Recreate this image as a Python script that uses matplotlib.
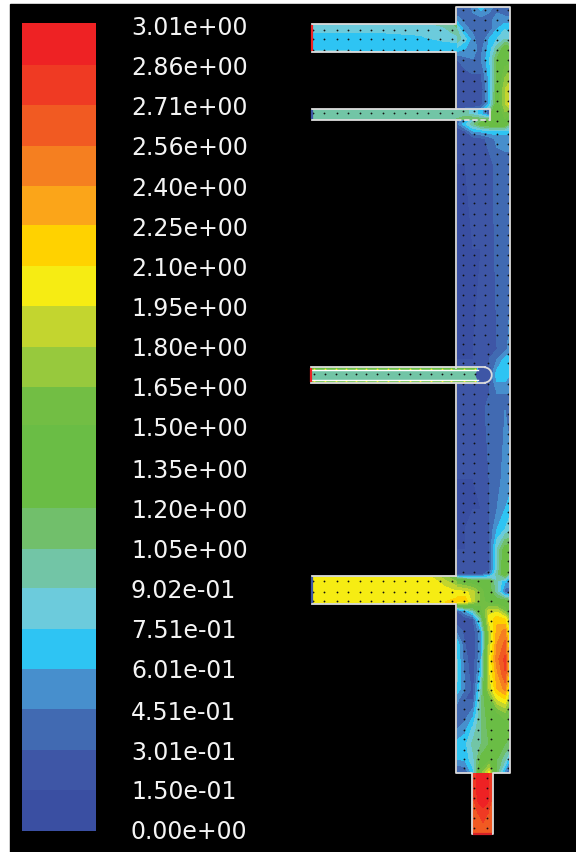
import matplotlib
matplotlib.use('Agg')
import matplotlib.pyplot as plt
from matplotlib.colors import ListedColormap, BoundaryNorm
from matplotlib.patches import Rectangle, Arc, Circle

# Contour levels and legend text, top of legend first
tick_labels = ['3.01e+00', '2.86e+00', '2.71e+00', '2.56e+00', '2.40e+00', '2.25e+00', '2.10e+00',
               '1.95e+00', '1.80e+00', '1.65e+00', '1.50e+00', '1.35e+00', '1.20e+00', '1.05e+00',
               '9.02e-01', '7.51e-01', '6.01e-01', '4.51e-01', '3.01e-01', '1.50e-01', '0.00e+00']
levels = [float(t) for t in tick_labels][::-1]
band_colors = ['#ee2224', '#ef3a23', '#f15a22', '#f57f20', '#fba519', '#ffd200', '#f6ec13',
               '#c3d52f', '#97c93d', '#72be44', '#6abd45', '#6abd45', '#71bf6b', '#72c5a6',
               '#6ccbdc', '#2ec4f3', '#478fcd', '#416ab2', '#3e56a6', '#3a4fa2']

# Main column, velocity
col_x = [457, 465, 473, 481, 489, 497, 505, 510]
col_y = [8, 20, 30, 40, 50, 60, 75, 90, 105, 125, 132, 140, 165, 250, 350, 360, 376, 395, 410, 480,
         510, 530, 550, 570, 575, 582, 593, 602, 612, 620, 632, 645, 660, 675, 690, 700, 715, 730,
         745, 760, 774]
col_v = [
    [.30, .30, .50, .70, .50, .40, .30, .30],
    [.50, .40, .40, .40, .40, .50, .50, .50],
    [.90, .50, .40, .30, .35, .60, .75, .70],
    [1.0, .80, .50, .30, .60, .75, .90, .80],
    [.70, .60, .50, .40, .65, 1.0, 1.35, 1.35],
    [.30, .40, .45, .45, .70, 1.2, 1.4, 1.4],
    [.20, .25, .30, .30, .65, 1.25, 1.6, 1.7],
    [.20, .20, .20, .20, .60, 1.3, 1.8, 1.9],
    [.20, .20, .15, .20, .65, 1.35, 1.8, 2.0],
    [.40, .70, 1.0, 1.3, 1.4, 1.5, 1.4, 1.0],
    [.20, .30, .60, .65, .70, .70, .70, .70],
    [.20, .20, .20, .25, .35, .50, .50, .50],
    [.15, .15, .20, .20, .25, .35, .40, .40],
    [.15, .15, .15, .15, .20, .35, .40, .40],
    [.15, .15, .15, .20, .20, .30, .40, .50],
    [.15, .15, .15, .20, .30, .45, .65, .70],
    [.20, .20, .20, .20, .30, .68, .68, .60],
    [.20, .20, .20, .20, .30, .45, .45, .45],
    [.20, .20, .20, .25, .35, .40, .45, .40],
    [.15, .15, .15, .20, .30, .40, .50, .50],
    [.15, .15, .15, .15, .30, .45, .60, .70],
    [.15, .15, .20, .20, .30, .60, .75, .85],
    [.15, .15, .20, .20, .30, .90, 1.3, 1.3],
    [.20, .20, .20, .20, .25, .85, 1.5, 1.3],
    [.20, .20, .20, .25, .40, 1.0, 1.4, .90],
    [1.5, 1.4, 1.35, 1.3, 1.25, .90, .65, .55],
    [2.0, 2.0, 1.85, 1.6, 1.3, .95, .35, .35],
    [2.2, 2.2, 1.85, 1.6, 1.35, 1.3, 1.3, 1.2],
    [.30, .60, .90, 1.4, 1.9, 1.9, 1.6, 1.4],
    [.20, .20, .30, 1.0, 2.0, 2.2, 2.1, 1.7],
    [.40, .25, .20, .60, 1.8, 2.3, 2.45, 1.8],
    [.70, .30, .20, .55, 1.8, 2.4, 2.6, 2.0],
    [.75, .35, .20, .60, 1.9, 2.5, 2.75, 2.0],
    [.80, .40, .20, .70, 1.9, 2.35, 2.7, 2.0],
    [.70, .45, .25, .90, 1.8, 2.25, 2.45, 1.9],
    [.50, .30, .30, 1.0, 1.5, 1.95, 2.1, 1.7],
    [.35, .35, .55, 1.05, 1.3, 1.45, 1.6, 1.45],
    [.45, .55, .80, 1.05, 1.25, 1.3, 1.35, 1.3],
    [.65, .70, .95, 1.05, 1.2, 1.3, 1.2, 1.1],
    [.60, .65, .85, 1.25, 1.4, 1.2, .95, .60],
    [.25, .30, .70, 1.6, 2.0, 1.1, .50, .20],
]

# Side ducts and inlet
duct1_x = [312, 380, 420, 445, 457]
duct1_y = [25, 32, 39, 46, 53]
duct1_v = [[.80, .80, .85, .95, 1.1],
           [.78, .78, .80, .85, 1.0],
           [.65, .65, .72, .82, .85],
           [.65, .65, .65, .68, .70],
           [.78, .76, .70, .65, .65]]
duct2_x = [312, 450, 465, 480, 490]
duct2_y = [110, 115, 121]
duct2_v = [[.97, .97, .97, .70, .30],
           [.97, .97, .97, .70, .30],
           [1.0, 1.0, 1.2, 1.2, 1.2]]
duct3_x = [311, 476, 478, 491]
duct3_y = [368, 370, 372, 381, 382, 384]
duct3_v = [[1.3, 1.3, .2, .2],
           [1.3, 1.3, .2, .2],
           [.97, .97, .2, .2],
           [.97, .97, .2, .2],
           [1.3, 1.3, .2, .2],
           [1.3, 1.3, .2, .2]]
duct4_x = [312, 430, 445, 457]
duct4_y = [577, 579, 590, 603, 605]
duct4_v = [[1.4, 1.4, 1.4, 1.4],
           [2.0, 2.0, 1.75, 1.5],
           [2.0, 2.0, 2.0, 1.9],
           [2.0, 2.0, 2.1, 2.2],
           [1.4, 1.6, 2.0, 2.2]]
inlet_x = [472, 478, 483, 488, 493]
inlet_y = [774, 800, 815, 835]
inlet_v = [[2.7, 2.9, 2.95, 2.9, 2.7],
           [2.65, 2.9, 2.95, 2.9, 2.65],
           [2.65, 2.7, 2.8, 2.7, 2.65],
           [2.6, 2.6, 2.6, 2.6, 2.6]]

# Velocity vector dots
duct_dot_x = [313, 324, 337, 348, 360, 371, 383, 394, 405, 417, 428, 440, 452]
duct3_dot_x = [314, 325, 336, 346, 356, 366, 377, 388, 399, 410, 420, 431, 442, 451, 464, 475]
top_dot_x = [463, 474, 485, 497, 508]
top_dot_y = [11, 21, 31, 41, 51, 61, 72, 82, 92, 102, 112, 122, 135, 145, 155, 165, 175, 185, 195,
             204, 215, 226, 236, 246, 256, 266, 276, 286, 296, 306, 316, 326, 336]
mid_dot_x = [463, 474, 488, 508]
mid_dot_y = [345, 355, 364, 385, 395, 405, 415, 425, 435, 444, 455, 464, 474, 484, 494, 504, 513,
             524, 533, 543, 553, 562, 573]
low_dot_x = [464, 478, 491, 508]
low_dot_y = [582, 593, 602, 612, 622, 632, 642, 652, 662, 672, 682, 691, 701, 710, 720, 731, 740,
             751, 760, 769]
inlet_dot_x = [474, 487]
inlet_dot_y = [779, 789, 799, 809, 819, 829]

# Legend layout in pixels
band_edges = [832, 791, 751, 710, 670, 630, 589, 550, 509, 469, 426, 388, 348, 307, 267, 226, 187,
              147, 106, 66, 24]
label_y = [27.5, 67.5, 107.5, 147.5, 188.5, 228.5, 268.5, 308.5, 348.5, 389.5, 429.5, 470.5, 510.5,
           551.5, 591.5, 631.5, 671.5, 712.5, 752.5, 792.5, 832.5]

fig = plt.figure(figsize=(5.76, 8.53), dpi=100, facecolor='white')
ax = fig.add_axes([0, 0, 1, 1])
ax.set_xlim(0, 576)
ax.set_ylim(853, 0)
ax.axis('off')
ax.add_patch(Rectangle((10, 5), 566, 848, color='black', zorder=0))

cmap = ListedColormap(band_colors[::-1])
norm = BoundaryNorm(levels, cmap.N)

# Legend
for i, c in enumerate(band_colors[::-1]):
    ax.barh(band_edges[i], 74, height=band_edges[i + 1] - band_edges[i], left=22, align='edge',
            color=c, zorder=1)
for y, t in zip(label_y, tick_labels):
    ax.text(131, y, t, color='#f4f4f4', fontsize=17, family='DejaVu Sans', va='center', ha='left')

# Contours
fields = [(col_x, col_y, col_v), (duct1_x, duct1_y, duct1_v), (duct2_x, duct2_y, duct2_v),
          (duct3_x, duct3_y, duct3_v), (duct4_x, duct4_y, duct4_v), (inlet_x, inlet_y, inlet_v)]
for fx, fy, fv in fields:
    ax.contourf(fx, fy, fv, levels=levels, cmap=cmap, norm=norm, zorder=2)

# Vector dots
for xs, ys, c in [(duct_dot_x, [31, 40, 51], '#111111'), (duct_dot_x, [114], '#111111'),
                  (duct3_dot_x, [375], '#111111'), (duct3_dot_x, [370, 382], '#f6ec13'),
                  (duct_dot_x, [582, 593, 602], '#111111'),
                  (top_dot_x, top_dot_y, '#111111'), (mid_dot_x, mid_dot_y, '#111111'),
                  (low_dot_x, low_dot_y, '#111111'), (inlet_dot_x, inlet_dot_y, '#111111')]:
    px = [x for x in xs for y in ys]
    py = [y for x in xs for y in ys]
    ax.scatter(px, py, s=1.7, c=c, linewidths=0, zorder=4)

# Walls
wall = dict(color='#dcdcdc', lw=1.3, zorder=5, solid_capstyle='projecting')
ax.plot([312, 456, 456, 510, 510, 493, 493, 472, 472, 456, 456, 312], [25, 25, 8, 8, 774, 774, 835, 835, 774, 774, 605, 605], **wall)
ax.plot([312, 456, 456], [53, 53, 110], **wall)
ax.plot([312, 490, 490], [110, 110, 121], **wall)
ax.plot([312, 456, 456], [121, 121, 369], **wall)
ax.plot([456, 490], [121, 121], color='#dcdcdc', lw=1.3, ls=(0, (3, 1.5)), zorder=5)
ax.plot([456, 456, 312], [577, 577, 577], **wall)
ax.plot([456, 456], [384, 577], **wall)
ax.plot([311, 485], [368, 368], **wall)
ax.plot([311, 485], [384, 384], **wall)
ax.plot([312, 478], [371, 371], color='white', lw=1, zorder=5)
ax.plot([312, 478], [381, 381], color='white', lw=1, zorder=5)
ax.add_patch(Circle((484, 376), 7.5, color=band_colors[18], zorder=3))
ax.add_patch(Arc((484, 376), 15.5, 15.5, theta1=-90, theta2=90, color='#dcdcdc', lw=1.3, zorder=5))
for x0, x1, y0, y1, c in [(312, 312, 26, 52, '#ee2224'), (312, 312, 111, 120, band_colors[18]),
                          (311, 311, 369, 383, '#ee2224'), (312, 312, 578, 604, band_colors[18]),
                          (473, 492, 835, 835, '#d62027')]:
    ax.plot([x0, x1], [y0, y1], color=c, lw=1.6, zorder=6, solid_capstyle='butt')

fig.savefig('out.png', dpi=100, facecolor='white')
